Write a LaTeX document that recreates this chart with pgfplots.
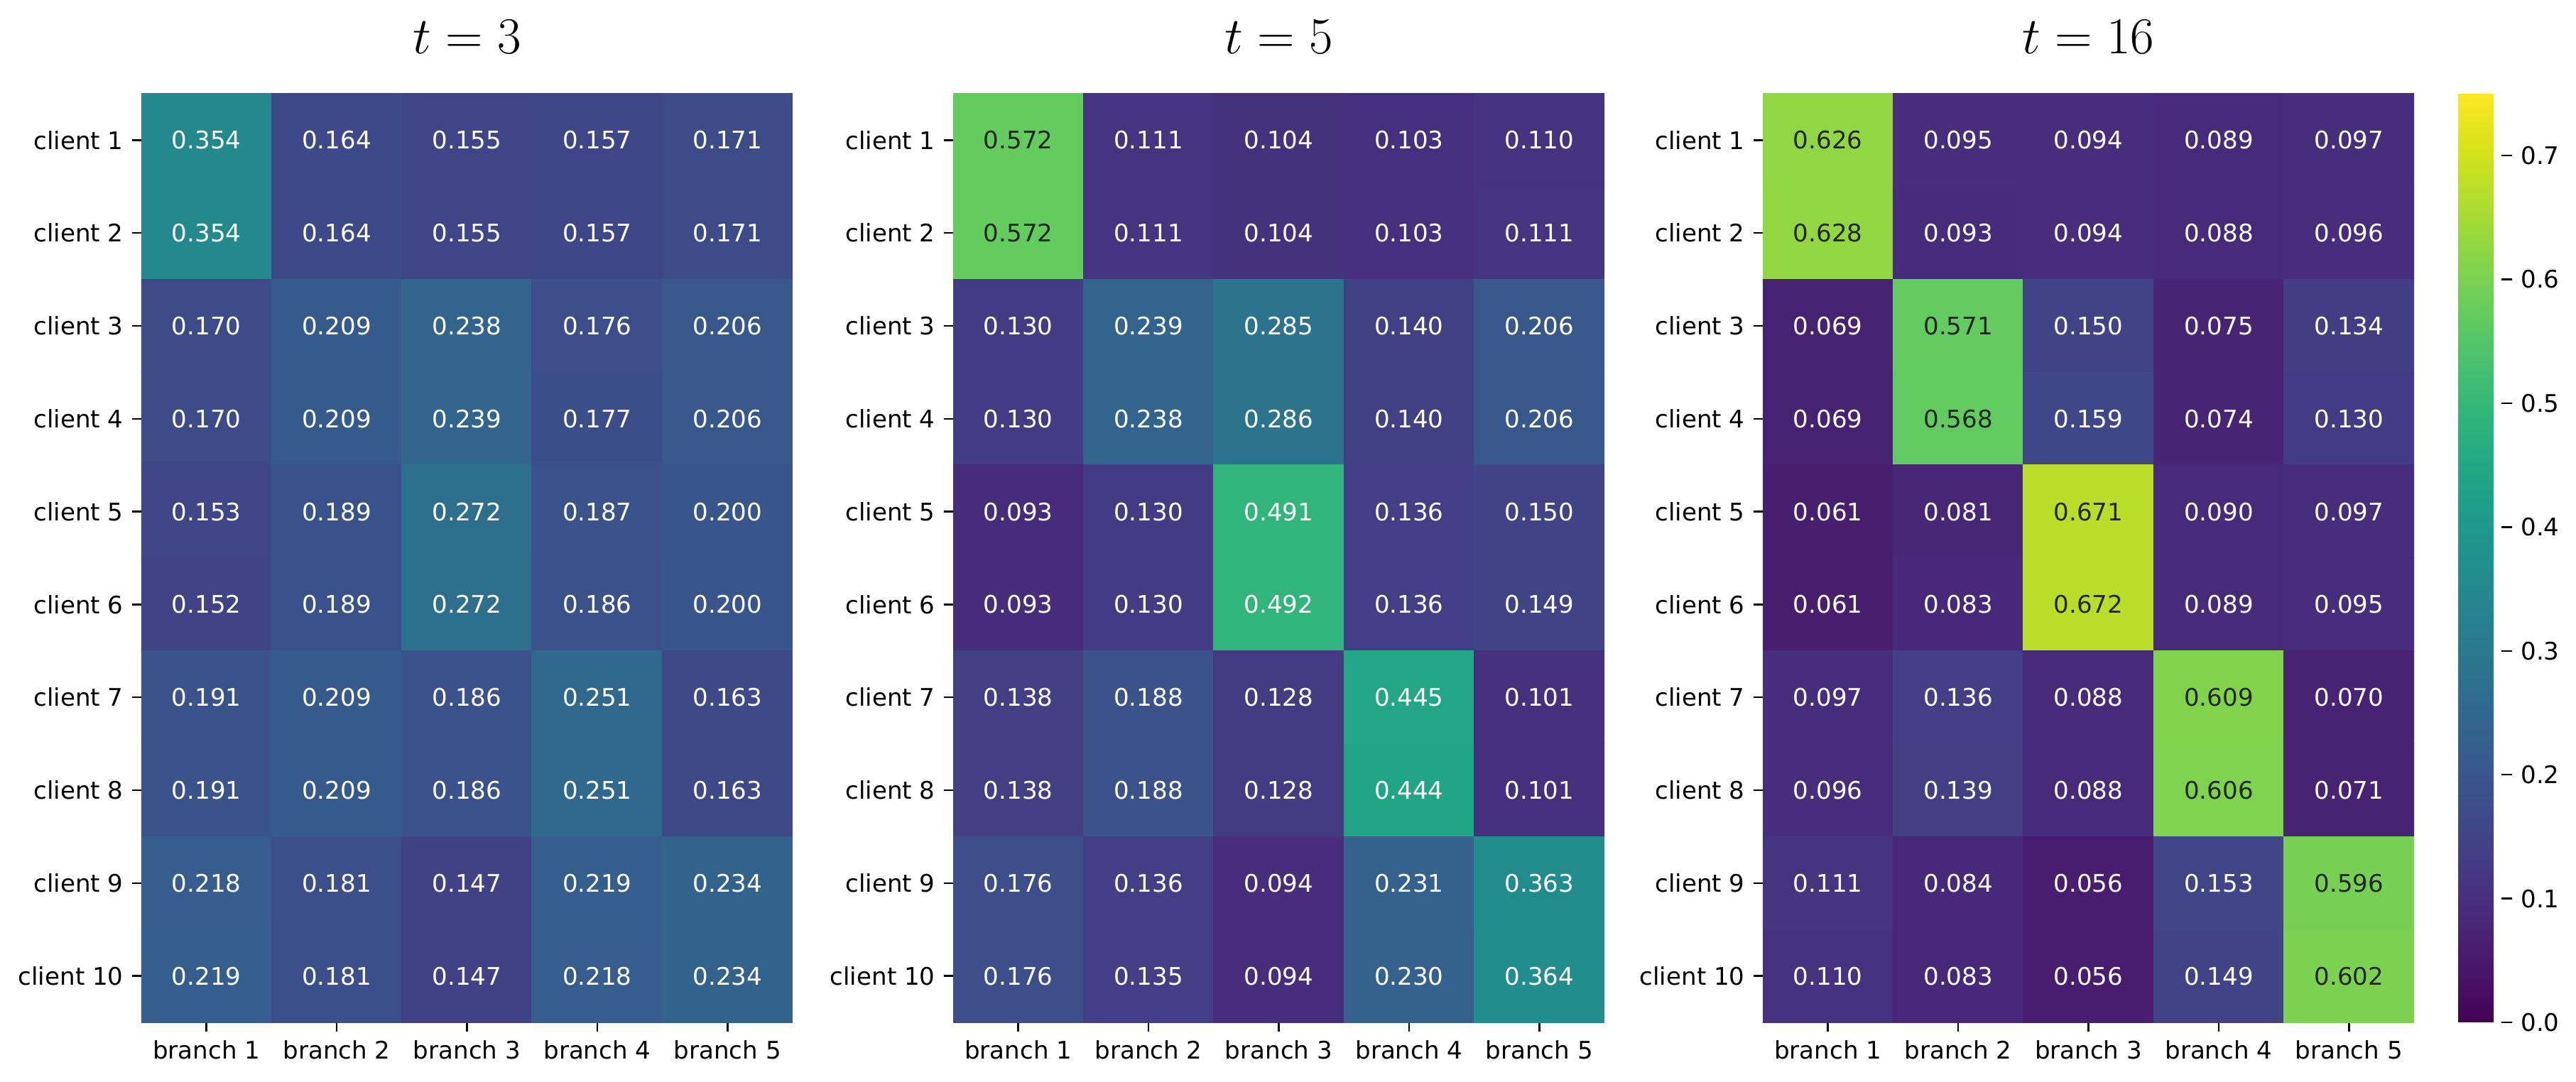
\documentclass[border=0pt]{standalone}
\usepackage{pgfplots}
\pgfplotsset{compat=1.18}
\usepackage{pgfplotstable}
\usepackage{fontspec}
\setmainfont{DejaVu Sans}

% t = 3
\pgfplotstableread{
x y v
1 1 0.354
2 1 0.164
3 1 0.155
4 1 0.157
5 1 0.171
1 2 0.354
2 2 0.164
3 2 0.155
4 2 0.157
5 2 0.171
1 3 0.170
2 3 0.209
3 3 0.238
4 3 0.176
5 3 0.206
1 4 0.170
2 4 0.209
3 4 0.239
4 4 0.177
5 4 0.206
1 5 0.153
2 5 0.189
3 5 0.272
4 5 0.187
5 5 0.200
1 6 0.152
2 6 0.189
3 6 0.272
4 6 0.186
5 6 0.200
1 7 0.191
2 7 0.209
3 7 0.186
4 7 0.251
5 7 0.163
1 8 0.191
2 8 0.209
3 8 0.186
4 8 0.251
5 8 0.163
1 9 0.218
2 9 0.181
3 9 0.147
4 9 0.219
5 9 0.234
1 10 0.219
2 10 0.181
3 10 0.147
4 10 0.218
5 10 0.234
}\tabA

% t = 5
\pgfplotstableread{
x y v
1 1 0.572
2 1 0.111
3 1 0.104
4 1 0.103
5 1 0.110
1 2 0.572
2 2 0.111
3 2 0.104
4 2 0.103
5 2 0.111
1 3 0.130
2 3 0.239
3 3 0.285
4 3 0.140
5 3 0.206
1 4 0.130
2 4 0.238
3 4 0.286
4 4 0.140
5 4 0.206
1 5 0.093
2 5 0.130
3 5 0.491
4 5 0.136
5 5 0.150
1 6 0.093
2 6 0.130
3 6 0.492
4 6 0.136
5 6 0.149
1 7 0.138
2 7 0.188
3 7 0.128
4 7 0.445
5 7 0.101
1 8 0.138
2 8 0.188
3 8 0.128
4 8 0.444
5 8 0.101
1 9 0.176
2 9 0.136
3 9 0.094
4 9 0.231
5 9 0.363
1 10 0.176
2 10 0.135
3 10 0.094
4 10 0.230
5 10 0.364
}\tabB

% t = 16
\pgfplotstableread{
x y v
1 1 0.626
2 1 0.095
3 1 0.094
4 1 0.089
5 1 0.097
1 2 0.628
2 2 0.093
3 2 0.094
4 2 0.088
5 2 0.096
1 3 0.069
2 3 0.571
3 3 0.150
4 3 0.075
5 3 0.134
1 4 0.069
2 4 0.568
3 4 0.159
4 4 0.074
5 4 0.130
1 5 0.061
2 5 0.081
3 5 0.671
4 5 0.090
5 5 0.097
1 6 0.061
2 6 0.083
3 6 0.672
4 6 0.089
5 6 0.095
1 7 0.097
2 7 0.136
3 7 0.088
4 7 0.609
5 7 0.070
1 8 0.096
2 8 0.139
3 8 0.088
4 8 0.606
5 8 0.071
1 9 0.111
2 9 0.084
3 9 0.056
4 9 0.153
5 9 0.596
1 10 0.110
2 10 0.083
3 10 0.056
4 10 0.149
5 10 0.602
}\tabC

\definecolor{txtdark}{HTML}{262626}
\newcommand\cellnum{\ifdim\pgfplotspointmetatransformed pt>700pt\color{txtdark}\else\color{white}\fi\pgfmathprintnumber[fixed,fixed zerofill,precision=3]{\pgfplotspointmeta}}

\pgfplotsset{
  /pgf/number format/assume math mode=true,
  hm/.style={
    scale only axis, width=91.7mm, height=130.8mm,
    xmin=0.5, xmax=5.5, ymin=0.5, ymax=10.5, y dir=reverse,
    enlargelimits=false,
    colormap/viridis, point meta min=0, point meta max=0.75,
    xtick={1,2,3,4,5},
    xticklabels={branch 1,branch 2,branch 3,branch 4,branch 5},
    ytick={1,2,3,4,5,6,7,8,9,10},
    yticklabels={client 1,client 2,client 3,client 4,client 5,client 6,client 7,client 8,client 9,client 10},
    axis line style={draw=none},
    tick align=outside, xtick pos=left, ytick pos=left,
    major tick length=1.3mm, tick style={black, line width=0.25mm},
    ticklabel style={font=\fontsize{9.7}{11}\selectfont, text=black},
    title style={at={(0.5,1)}, anchor=center, yshift=5.9mm, font=\fontsize{20}{23}\selectfont},
    anchor=south west,
  },
  hmplot/.style={matrix plot*, mesh/cols=5, point meta=explicit,
    nodes near coords={\cellnum}, nodes near coords align=center,
    every node near coord/.append style={font=\fontsize{9.7}{11}\selectfont}},
}

\begin{document}
\begin{tikzpicture}
\path[use as bounding box] (0,0) rectangle (362.7mm,152.4mm);

\begin{axis}[hm, at={(19.9mm,8.4mm)}, title={$t=3$}]
\addplot[hmplot] table[x=x,y=y,meta=v]{\tabA};
\end{axis}

\begin{axis}[hm, at={(134.2mm,8.4mm)}, title={$t=5$}]
\addplot[hmplot] table[x=x,y=y,meta=v]{\tabB};
\end{axis}

\begin{axis}[hm, at={(248.2mm,8.4mm)}, title={$t=16$},
  colorbar,
  colorbar style={
    scale only axis,
    at={(parent axis.north east)}, anchor=north west, xshift=3.2mm,
    width=6.1mm, height=130.8mm, y dir=normal,
    ytick={0,0.1,0.2,0.3,0.4,0.5,0.6,0.7},
    yticklabel={\pgfmathprintnumber[fixed,fixed zerofill,precision=1]{\tick}},
    yticklabel style={font=\fontsize{9.7}{11}\selectfont},
    axis line style={draw=none},
    major tick length=1.5mm, tick style={black, line width=0.25mm},
    tick align=outside, ytick pos=right,
  }]
\addplot[hmplot] table[x=x,y=y,meta=v]{\tabC};
\end{axis}
\end{tikzpicture}
\end{document}
